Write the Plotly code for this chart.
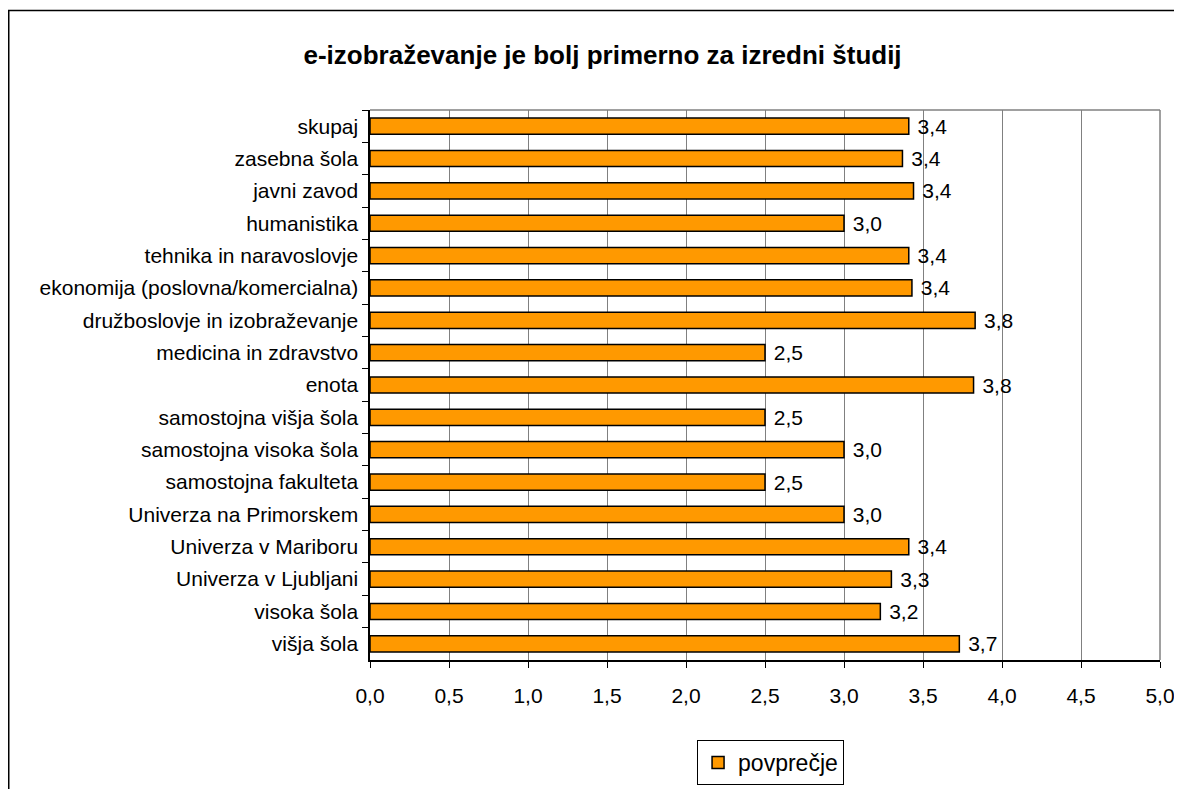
import plotly.graph_objects as go

categories = [
    "skupaj",
    "zasebna šola",
    "javni zavod",
    "humanistika",
    "tehnika in naravoslovje",
    "ekonomija (poslovna/komercialna)",
    "družboslovje in izobraževanje",
    "medicina in zdravstvo",
    "enota",
    "samostojna višja šola",
    "samostojna visoka šola",
    "samostojna fakulteta",
    "Univerza na Primorskem",
    "Univerza v Mariboru",
    "Univerza v Ljubljani",
    "visoka šola",
    "višja šola",
]
values = [3.41, 3.37, 3.44, 3.0, 3.41, 3.43, 3.83, 2.5, 3.82, 2.5, 3.0, 2.5, 3.0, 3.41, 3.30, 3.23, 3.73]
series_name = "povprečje"
tick_vals = [0, 0.5, 1, 1.5, 2, 2.5, 3, 3.5, 4, 4.5, 5]
tick_text = ["0,0", "0,5", "1,0", "1,5", "2,0", "2,5", "3,0", "3,5", "4,0", "4,5", "5,0"]

FONT = "Liberation Sans, Arial, sans-serif"

fig = go.Figure()
fig.add_trace(go.Bar(
    y=categories,
    x=values,
    orientation="h",
    name=series_name,
    marker=dict(color="#FF9900", line=dict(color="black", width=1.5)),
    texttemplate="\u00a0%{x:.1f}",
    textposition="outside",
    constraintext="none",
    textfont=dict(family=FONT, size=21, color="black"),
    cliponaxis=False,
    showlegend=True,
))

fig.update_layout(
    width=1182,
    height=789,
    separators=",.",
    paper_bgcolor="white",
    plot_bgcolor="white",
    margin=dict(l=362, r=30, t=102, b=137),
    bargap=0.5,
    title=dict(
        text="<b>e-izobraževanje je bolj primerno za izredni študij</b>",
        x=0.503, xanchor="center", y=0.94, yanchor="middle",
        font=dict(family=FONT, size=26, color="black"),
    ),
    font=dict(family=FONT, size=21, color="black"),
    xaxis=dict(
        range=[0, 5],
        tickvals=tick_vals,
        ticktext=tick_text,
        showgrid=True,
        gridcolor="#808080",
        gridwidth=1,
        showline=True,
        linecolor="black",
        linewidth=1.5,
        ticks="outside",
        ticklen=6,
        tickcolor="black",
        ticklabelstandoff=10,
        tickfont=dict(family=FONT, size=21, color="black"),
        zeroline=False,
        mirror=False,
    ),
    yaxis=dict(
        categoryorder="array",
        categoryarray=categories,
        autorange="reversed",
        showline=True,
        linecolor="black",
        linewidth=1.5,
        ticks="outside",
        tickson="boundaries",
        ticklen=6,
        tickcolor="black",
        tickfont=dict(family=FONT, size=21, color="black"),
        showgrid=False,
        ticksuffix=" ",
    ),
    legend=dict(
        orientation="h",
        x=0.414, xanchor="left",
        y=-0.1455, yanchor="top",
        bordercolor="black",
        borderwidth=1,
        font=dict(family=FONT, size=23, color="black"),
        bgcolor="white",
    ),
    shapes=[
        dict(type="line", xref="paper", yref="paper", x0=0, x1=1, y0=1, y1=1,
             line=dict(color="#808080", width=1.5)),
        dict(type="line", xref="paper", yref="paper", x0=1, x1=1, y0=0, y1=1,
             line=dict(color="#808080", width=1.5)),
        dict(type="rect", xref="paper", yref="paper",
             x0=(0.75 - 362) / 790, x1=1.1, y0=-0.4, y1=1 + (102 - 2.5) / 550,
             line=dict(color="black", width=1.5), layer="below"),
    ],
)

fig.write_html("out.html")
